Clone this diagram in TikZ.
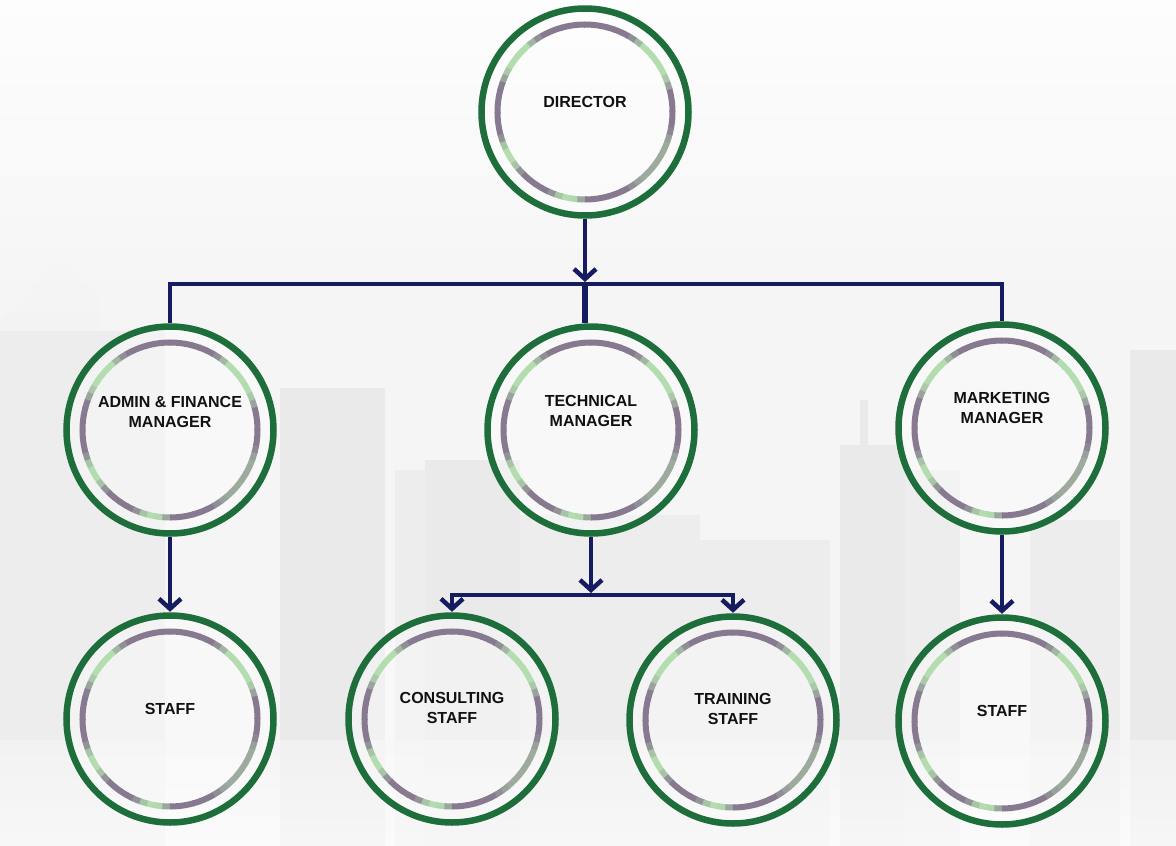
\documentclass[tikz,border=0pt]{standalone}
\usepackage{fontspec}
\setmainfont{Liberation Sans}
\usetikzlibrary{arrows.meta}
\definecolor{ringgreen}{HTML}{1E6E3C}
\definecolor{ringP}{HTML}{877A90}
\definecolor{ringG}{HTML}{B3DCAF}
\definecolor{navy}{HTML}{161C60}
\definecolor{bgc}{HTML}{F5F5F5}
\definecolor{bldc}{HTML}{EDEDED}
\definecolor{bldd}{HTML}{EAEAEA}
\definecolor{txt}{HTML}{111111}
\tikzset{
  orgcircle/.style={circle, minimum size=214pt, inner sep=0pt, draw=none},
  outerring/.style={draw=ringgreen, line width=6.5pt, fill=white, fill opacity=0.35},
  conn/.style={draw=navy, line width=4pt},
  thickconn/.style={draw=navy, line width=6.5pt},
  arr/.style={-{Straight Barb[length=10pt,width=22pt,line width=4.5pt]}},
  lbl/.style={font=\bfseries\fontsize{16}{20}\selectfont, align=center, text=txt},
}
\newcommand\ringsegs[1]{%
  \foreach \a/\p in {0/100,5/100,10/100,15/58,20/19,25/0,30/0,35/0,40/0,45/0,50/38,55/79,
    60/100,65/100,70/100,75/100,80/100,85/100,90/100,95/100,100/100,105/100,110/100,115/100,
    120/79,125/38,130/0,135/0,140/0,145/0,150/19,155/58,160/96,165/100,170/100,175/100,
    180/100,185/100,190/100,195/75,200/25,205/0,210/0,215/25,220/75,225/100,230/100,235/100,
    240/100,245/75,250/25,255/0,260/5,265/55,270/100,275/100,280/100,285/100,290/100,295/100,
    300/81,305/60,310/50,315/50,320/50,325/50,330/50,335/50,340/62,345/87,350/100,355/100}
  {\draw[line width=6pt, ringP!\p!ringG] ([shift={(-\a:87.5)}]#1) arc[start angle=-\a, end angle=-\a-5.6, radius=87.5];}%
}
% name, x, y, text yshift, text
\newcommand\orgunit[5]{%
  \node[orgcircle] (#1) at (#2,#3) {};
  \draw[outerring] (#1.center) circle[radius=103.5];
  \ringsegs{#1.center}
  \node[lbl] (#1-t) at ([yshift=#4]#1.center) {#5};
}
\begin{document}
\begin{tikzpicture}[x=1pt,y=-1pt]
\useasboundingbox (0,0) rectangle (1176,846);
% background
\fill[bgc] (0,0) rectangle (1176,846);
% faint skyline
\fill[bldc] (0,320) -- (25,295) -- (45,272) -- (60,262) -- (75,272) -- (100,300) -- (100,846) -- (0,846) -- cycle;
\fill[bldc] (100,330) rectangle (165,846);
\fill[bldd] (280,388) rectangle (385,846);
\fill[bldc] (395,470) rectangle (425,846);
\fill[bldd] (425,460) rectangle (520,846);
\fill[bldc] (520,515) rectangle (700,846);
\fill[bldc] (700,540) rectangle (830,846);
\fill[bldd] (840,445) rectangle (905,846);
\fill[bldd] (860,400) rectangle (868,445);
\fill[bldc] (905,470) rectangle (960,846);
\fill[bldc] (1030,520) rectangle (1120,846);
\fill[bldd] (1130,350) rectangle (1176,846);
\shade[top color=white, bottom color=bgc, opacity=0.8] (0,0) rectangle (1176,330);
\shade[top color=bgc, bottom color=white, opacity=0.6] (0,740) rectangle (1176,846);

% units
\orgunit{D}{585}{112}{10pt}{DIRECTOR}
\orgunit{A}{170}{430}{18pt}{ADMIN \& FINANCE\\MANAGER}
\orgunit{T}{591}{430}{19pt}{TECHNICAL\\MANAGER}
\orgunit{M}{1002}{428}{20pt}{MARKETING\\MANAGER}
\orgunit{S1}{170}{719}{10pt}{STAFF}
\orgunit{C}{452}{719}{11pt}{CONSULTING\\STAFF}
\orgunit{R}{733}{720}{11pt}{TRAINING\\STAFF}
\orgunit{S2}{1002}{721}{10pt}{STAFF}

% junctions
\coordinate (jD) at (585,284);
\coordinate (jT) at (591,595);

% connectors
\draw[conn] (A.north) |- (jD) -| (M.north);
\draw[thickconn] (jD) -- (jD |- T.north);
\draw[conn, arr] (D.south) -- ([yshift=2pt]jD);
\draw[conn, arr] (A.south) -- (S1.north);
\draw[conn, arr] (M.south) -- (S2.north);
\draw[conn, arr] (T.south) -- ([yshift=2pt]jT);
\draw[conn, arr] (jT) -| (C.north);
\draw[conn, arr] (jT) -| (R.north);
\end{tikzpicture}
\end{document}
